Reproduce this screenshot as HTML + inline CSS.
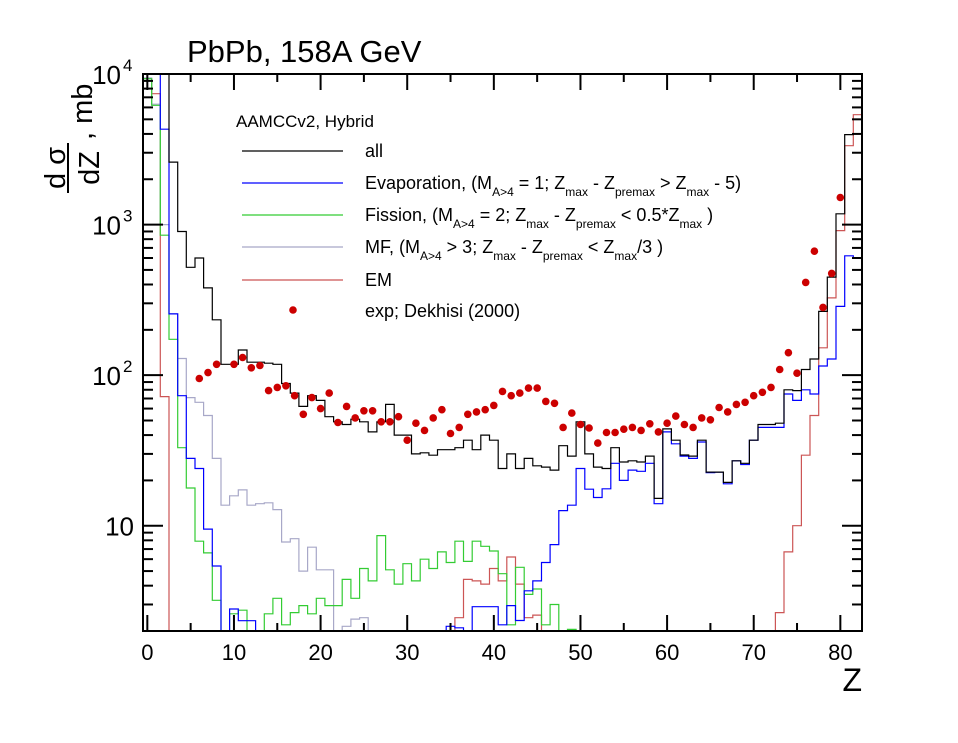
<!DOCTYPE html>
<html><head><meta charset="utf-8"><style>
html,body{margin:0;padding:0;background:#fff;}
svg{display:block;font-family:"Liberation Sans",Arial,sans-serif;}
</style></head><body>
<svg id="chart" width="958" height="743" viewBox="0 0 958 743" xmlns="http://www.w3.org/2000/svg">
<rect width="958" height="743" fill="#fff"/>
<text x="187" y="62" font-size="31" fill="#000">PbPb, 158A GeV</text>
<g transform="translate(0,0)">
 <text transform="translate(65,168) rotate(-90)" font-size="29" text-anchor="middle">d σ</text>
 <line x1="68" y1="143" x2="68" y2="193" stroke="#000" stroke-width="2"/>
 <text transform="translate(99,168) rotate(-90)" font-size="29" text-anchor="middle">dZ</text>
 <text transform="translate(92,140) rotate(-90)" font-size="29" text-anchor="start">, mb</text>
</g>
<text x="862" y="691" font-size="32" text-anchor="end">Z</text>
<g id="plot"></g>
<g id="axes"></g>
<g id="legend">
 <text x="236" y="127" font-size="17">AAMCCv2, Hybrid</text>
</g>
</svg>
<script>
const zValues = [];
for (let i = 0; i <= 82; i++) zValues.push(i);
const seriesAll = [2e4,2e4,2e4,2600,900,520,600,380,233,118,118,147,122,122,120,118,88,76,62,73,68,53,49,47,51,49,42,49,64,40,40,30,30.5,29.4,32,32,33,37,32,40,37,24,30,24,28,25,24.5,23.4,34,29,49,30,24.5,24,33,26.5,27,26.5,29,15.2,44,37,29.5,29,37,22.7,22.7,19.4,27,26,37,47,47,48,80,79,109,128,265,448,1180,3960,4000];
const seriesEvap = [1.2e4,1.2e4,4300,255,73,28,24,9.5,5.4,0,2.8,2.34,2.34,0,0,0,0,0,0,0,0,0,0,0,0,0,0,0,0,0,0,0,0,0,0,2.15,2.1,0,2.9,2.9,2.9,2.2,2.95,2.35,3.7,4.3,5.7,7.5,12.6,13.7,24,17.5,15.4,17.6,26,20,23.4,23,26,14,42,35,29,28,36,22.5,22.7,19,27,25.5,37,45,45,45,75,68,80,75,115,128,286,620,600];
const seriesFission = [9300,6200,850,173,33,17.8,7.9,6.6,3.2,0,2.6,2.75,0,0,2.6,3.3,2.2,2.65,2.95,2.6,3.3,2.95,2.95,4.4,3.3,5.2,4.3,8.6,5.1,4.1,5.6,4.3,6.0,5.2,6.7,5.7,7.9,5.8,7.9,7.3,6.8,4.8,2.2,5.3,3.5,3.8,2.2,3.0,0,2.05,0,0,0,0,0,0,0,0,0,0,0,0,0,0,0,0,0,0,0,0,0,0,0,0,0,0,0,0,0,0,0,0,0];
const seriesMF = [9400,6300,1000,255,129,71,66,54,28,13.7,15.8,17.3,13.7,14,14.2,12.8,7.8,8.2,5.0,7.2,5.1,5.1,0,2.15,2.4,2.45,0,0,0,0,0,0,0,0,0,0,0,0,0,0,0,0,0,0,0,0,0,0,0,0,0,0,0,0,0,0,0,0,0,0,0,0,0,0,0,0,0,0,0,0,0,0,0,0,0,0,0,0,0,0,0,0,0];
const seriesEM = [9000,7400,72,0,0,0,0,0,0,0,0,0,0,0,0,0,0,0,0,0,0,0,0,0,0,0,0,0,0,0,0,0,0,0,0,0,2.45,4.4,4.3,4.1,5.2,4.3,6.2,4.1,2.45,2.55,0,0,0,0,0,0,0,0,0,0,0,0,0,0,0,0,0,0,0,0,0,0,0,0,0,0,0,2.65,6.7,10,29.4,54,152,326,912,3340,5370];
const expZ = [6,7,8,10,11,12,13,14,15,16,17,18,19,20,21,22,23,24,25,26,27,28,29,30,31,32,33,34,35,36,37,38,39,40,41,42,43,44,45,46,47,48,49,50,51,52,53,54,55,56,57,58,59,60,61,62,63,64,65,66,67,68,69,70,71,72,73,74,75,76,77,78,79,80];
const expVal = [95,104,118,118,131,112,116,79,83,85,73,55,71,60,76,48.5,62,52,58,58,49,49,53,37,48,43,52,59,41,45,55,57,59,63,78,73,76,82,82,67,65,45,56,47,44.6,35.4,41.6,41.6,43.8,45,43,47.5,42,48,53.5,47,45,52,50.5,61,57,64,66,73,77,83,109,141,103,413,666,282,474,1513];
const xTicks = [0,10,20,30,40,50,60,70,80];
const yTickExp = [1,2,3,4];

const NS = "http://www.w3.org/2000/svg";
const L = 143, R = 862, T = 74, B = 631;
const XMIN = -0.5, XMAX = 82.5, YMIN = 2, YMAX = 1e4;
function xs(v){ return L + (v - XMIN) / (XMAX - XMIN) * (R - L); }
function ys(v){
  if (v <= YMIN) return B;
  if (v >= YMAX) return T;
  return B - (Math.log10(v) - Math.log10(YMIN)) / (Math.log10(YMAX) - Math.log10(YMIN)) * (B - T);
}
function mk(tag, attrs, parent){
  const e = document.createElementNS(NS, tag);
  for (const k in attrs) e.setAttribute(k, attrs[k]);
  parent.appendChild(e);
  return e;
}
const plot = document.getElementById('plot');
const axes = document.getElementById('axes');

function histPath(vals){
  let d = "";
  for (let i = 0; i < vals.length; i++){
    const x0 = xs(zValues[i] - 0.5), x1 = Math.min(xs(zValues[i] + 0.5), R);
    const y = ys(vals[i]);
    d += (i === 0 ? "M" : "L") + x0.toFixed(1) + "," + y.toFixed(1) + "L" + x1.toFixed(1) + "," + y.toFixed(1);
  }
  return d;
}
const series = [
  {vals: seriesEM, color: "#cc5555", name: "em-histogram"},
  {vals: seriesMF, color: "#a8a8c8", name: "mf-histogram"},
  {vals: seriesFission, color: "#33cc33", name: "fission-histogram"},
  {vals: seriesEvap, color: "#0000ff", name: "evaporation-histogram"},
  {vals: seriesAll, color: "#000000", name: "all-histogram"}
];
for (const s of series){
  const p = mk('path', {d: histPath(s.vals), fill: "none", stroke: s.color, "stroke-width": 1.2}, plot);
  
  
}
for (let i = 0; i < expZ.length; i++){
  const c = mk('circle', {cx: xs(expZ[i]).toFixed(1), cy: ys(expVal[i]).toFixed(1), r: 3.8, fill: "#cc0000"}, plot);
  
  
}

// frame
const fr = mk('rect', {x: L, y: T, width: R - L, height: B - T, fill: "none", stroke: "#000", "stroke-width": 2}, axes);


// x ticks
for (let v = 0; v <= 80; v += 5){
  const major = v % 10 === 0;
  const len = major ? 16 : 8;
  const x = xs(v);
  const t1 = mk('line', {x1: x, y1: B, x2: x, y2: B - len, stroke: "#000", "stroke-width": 2}, axes);
  
  
  const t2 = mk('line', {x1: x, y1: T, x2: x, y2: T + len, stroke: "#000", "stroke-width": 2}, axes);
  
  
}
for (const v of xTicks){
  const t = mk('text', {x: xs(v), y: 660, "font-size": 22, "text-anchor": "middle"}, axes);
  t.textContent = String(v);
  
  
}
// y ticks
for (let e = 0; e <= 3; e++){
  for (let m = 1; m <= 9; m++){
    const v = m * Math.pow(10, e);
    if (v < YMIN || v > YMAX) continue;
    const y = ys(v);
    const len = m === 1 ? 20 : 10;
    const a = mk('line', {x1: L, y1: y, x2: L + len, y2: y, stroke: "#000", "stroke-width": 2}, axes);
    
    
    const b = mk('line', {x1: R, y1: y, x2: R - len, y2: y, stroke: "#000", "stroke-width": 2}, axes);
    
    
  }
}
for (const e of yTickExp){
  const y = ys(Math.pow(10, e));
  const t = mk('text', {x: e === 1 ? 134 : 121, y: y + 10, "font-size": 26, "text-anchor": "end"}, axes);
  t.textContent = "10";
  
  
  if (e > 1){
    const s = mk('text', {x: 123, y: y - 3, "font-size": 17, "text-anchor": "start"}, axes);
    s.textContent = String(e);
    
    
  }
}
</script>
<svg width="0" height="0"></svg>
<script>
(function(){
  const NS = "http://www.w3.org/2000/svg";
  const lg = document.getElementById('legend');
  const entries = [
    {y: 151, color: "#000000", html: 'all', name: 'legend-entry-all'},
    {y: 183, color: "#0000ff", html: 'Evaporation, (M<tspan font-size="12" dy="7">A&gt;4</tspan><tspan dy="-7"> = 1; Z</tspan><tspan font-size="12" dy="7">max</tspan><tspan dy="-7"> - Z</tspan><tspan font-size="12" dy="7">premax</tspan><tspan dy="-7"> &gt; Z</tspan><tspan font-size="12" dy="7">max</tspan><tspan dy="-7"> - 5)</tspan>', name: 'legend-entry-evaporation'},
    {y: 215, color: "#33cc33", html: 'Fission, (M<tspan font-size="12" dy="7">A&gt;4</tspan><tspan dy="-7"> = 2; Z</tspan><tspan font-size="12" dy="7">max</tspan><tspan dy="-7"> - Z</tspan><tspan font-size="12" dy="7">premax</tspan><tspan dy="-7"> &lt; 0.5*Z</tspan><tspan font-size="12" dy="7">max</tspan><tspan dy="-7"> )</tspan>', name: 'legend-entry-fission'},
    {y: 247, color: "#a8a8c8", html: 'MF, (M<tspan font-size="12" dy="7">A&gt;4</tspan><tspan dy="-7"> &gt; 3; Z</tspan><tspan font-size="12" dy="7">max</tspan><tspan dy="-7"> - Z</tspan><tspan font-size="12" dy="7">premax</tspan><tspan dy="-7"> &lt; Z</tspan><tspan font-size="12" dy="7">max</tspan><tspan dy="-7">/3 )</tspan>', name: 'legend-entry-mf'},
    {y: 280, color: "#cc5555", html: 'EM', name: 'legend-entry-em'}
  ];
  for (const e of entries){
    const g = document.createElementNS(NS, 'g');
    
    
    lg.appendChild(g);
    const l = document.createElementNS(NS, 'line');
    l.setAttribute('x1', 242); l.setAttribute('x2', 343);
    l.setAttribute('y1', e.y); l.setAttribute('y2', e.y);
    l.setAttribute('stroke', e.color); l.setAttribute('stroke-width', 1.2);
    
    
    g.appendChild(l);
    const t = document.createElementNS(NS, 'text');
    t.setAttribute('x', 365); t.setAttribute('y', e.y + 6);
    t.setAttribute('font-size', 18);
    t.innerHTML = e.html;
    
    
    g.appendChild(t);
  }
  const g = document.createElementNS(NS, 'g');
  
  
  lg.appendChild(g);
  const c = document.createElementNS(NS, 'circle');
  c.setAttribute('cx', 293); c.setAttribute('cy', 310); c.setAttribute('r', 3.8); c.setAttribute('fill', '#cc0000');
  
  
  g.appendChild(c);
  const t = document.createElementNS(NS, 'text');
  t.setAttribute('x', 365); t.setAttribute('y', 317); t.setAttribute('font-size', 18);
  t.textContent = 'exp; Dekhisi (2000)';
  
  
  g.appendChild(t);
})();
</script>
</body></html>
